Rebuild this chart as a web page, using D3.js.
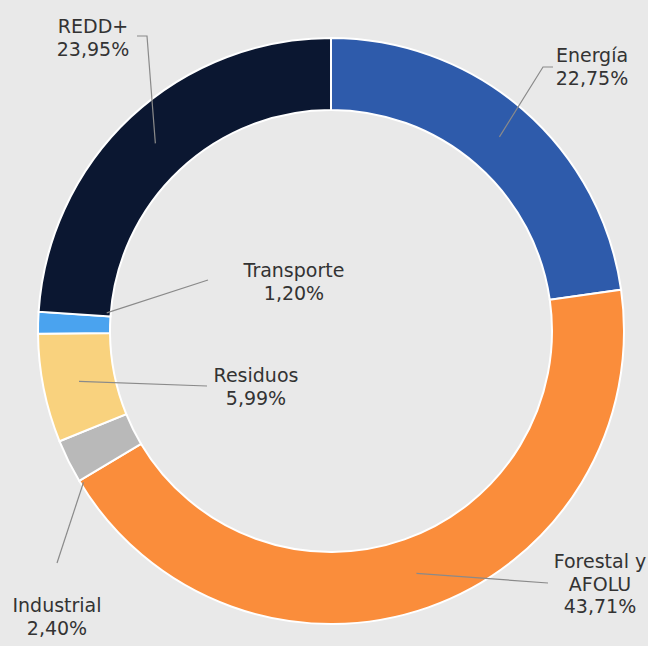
<!DOCTYPE html>
<html>
<head>
<meta charset="utf-8">
<script src="https://cdn.jsdelivr.net/npm/d3@7"></script>
<style>
  body { margin: 0; background: #e9e9e9; }
  svg { display: block; }
  .lbl { font-family: "DejaVu Sans", Verdana, sans-serif; font-size: 19px; fill: #333; }
</style>
</head>
<body>
<div id="chart"></div>
<script>
var categories = ['Energía', 'Forestal y AFOLU', 'Industrial', 'Residuos', 'Transporte', 'REDD+'];
var values = [22.75, 43.71, 2.40, 5.99, 1.20, 23.95];
var labelLines = [['Energía', '22,75%'], ['Forestal y', 'AFOLU', '43,71%'], ['Industrial', '2,40%'],
                  ['Residuos', '5,99%'], ['Transporte', '1,20%'], ['REDD+', '23,95%']];
var colors = ['#2e5bab', '#fa8d3b', '#b9b9b9', '#f9d27e', '#4aa3ef', '#0b1731'];

// label layout: text centre x, first baseline y, leader line (start radius, angle shift in deg, then end points)
var labelPos = [[592, 62], [600, 568], [57, 612], [256, 382], [294, 277], [93, 33]];
var leaderR = [257, 257, 290, 257, 225, 257];
var leaderShift = [0, 0, -5, 0, 3, 0];
var leaderEnd = [[[543, 67], [553, 67]], [[548, 583]], [[57, 563]], [[207, 386]], [[208, 280]], [[147, 36], [137, 36]]];

var width = 648,
    height = 646,
    cx = 331, cy = 331,
    outerR = 293, innerR = 221;

var data = categories.map(function(c, i) { return {label: c, value: values[i]}; });

var svg = d3.select('#chart')
  .append('svg')
  .attr('width', width)
  .attr('height', height);

var g = svg.append('g')
  .attr('transform', 'translate(' + cx + ',' + cy + ')');

var arc = d3.arc()
  .innerRadius(innerR)
  .outerRadius(outerR);

var pie = d3.pie()
  .value(function(d) { return d.value; })
  .sort(null);

var arcs = pie(data);

g.selectAll('path')
  .data(arcs)
  .enter()
  .append('path')
  .attr('d', arc)
  .attr('fill', function(d, i) { return colors[i]; })
  .attr('stroke', '#ffffff')
  .attr('stroke-width', 2);

// leader lines
arcs.forEach(function(d, i) {
  var a = (d.startAngle + d.endAngle) / 2 + leaderShift[i] * Math.PI / 180;
  var pts = [[cx + leaderR[i] * Math.sin(a), cy - leaderR[i] * Math.cos(a)]].concat(leaderEnd[i]);
  svg.append('path')
    .attr('d', d3.line()(pts))
    .attr('fill', 'none')
    .attr('stroke', '#8a8a8a')
    .attr('stroke-width', 1.2);
});

// labels
labelLines.forEach(function(lines, i) {
  var t = svg.append('text')
    .attr('class', 'lbl')
    .attr('text-anchor', 'middle');
  lines.forEach(function(s, j) {
    t.append('tspan')
      .attr('x', labelPos[i][0])
      .attr('y', labelPos[i][1] + j * 22.5)
      .text(s);
  });
});
</script>
</body>
</html>
